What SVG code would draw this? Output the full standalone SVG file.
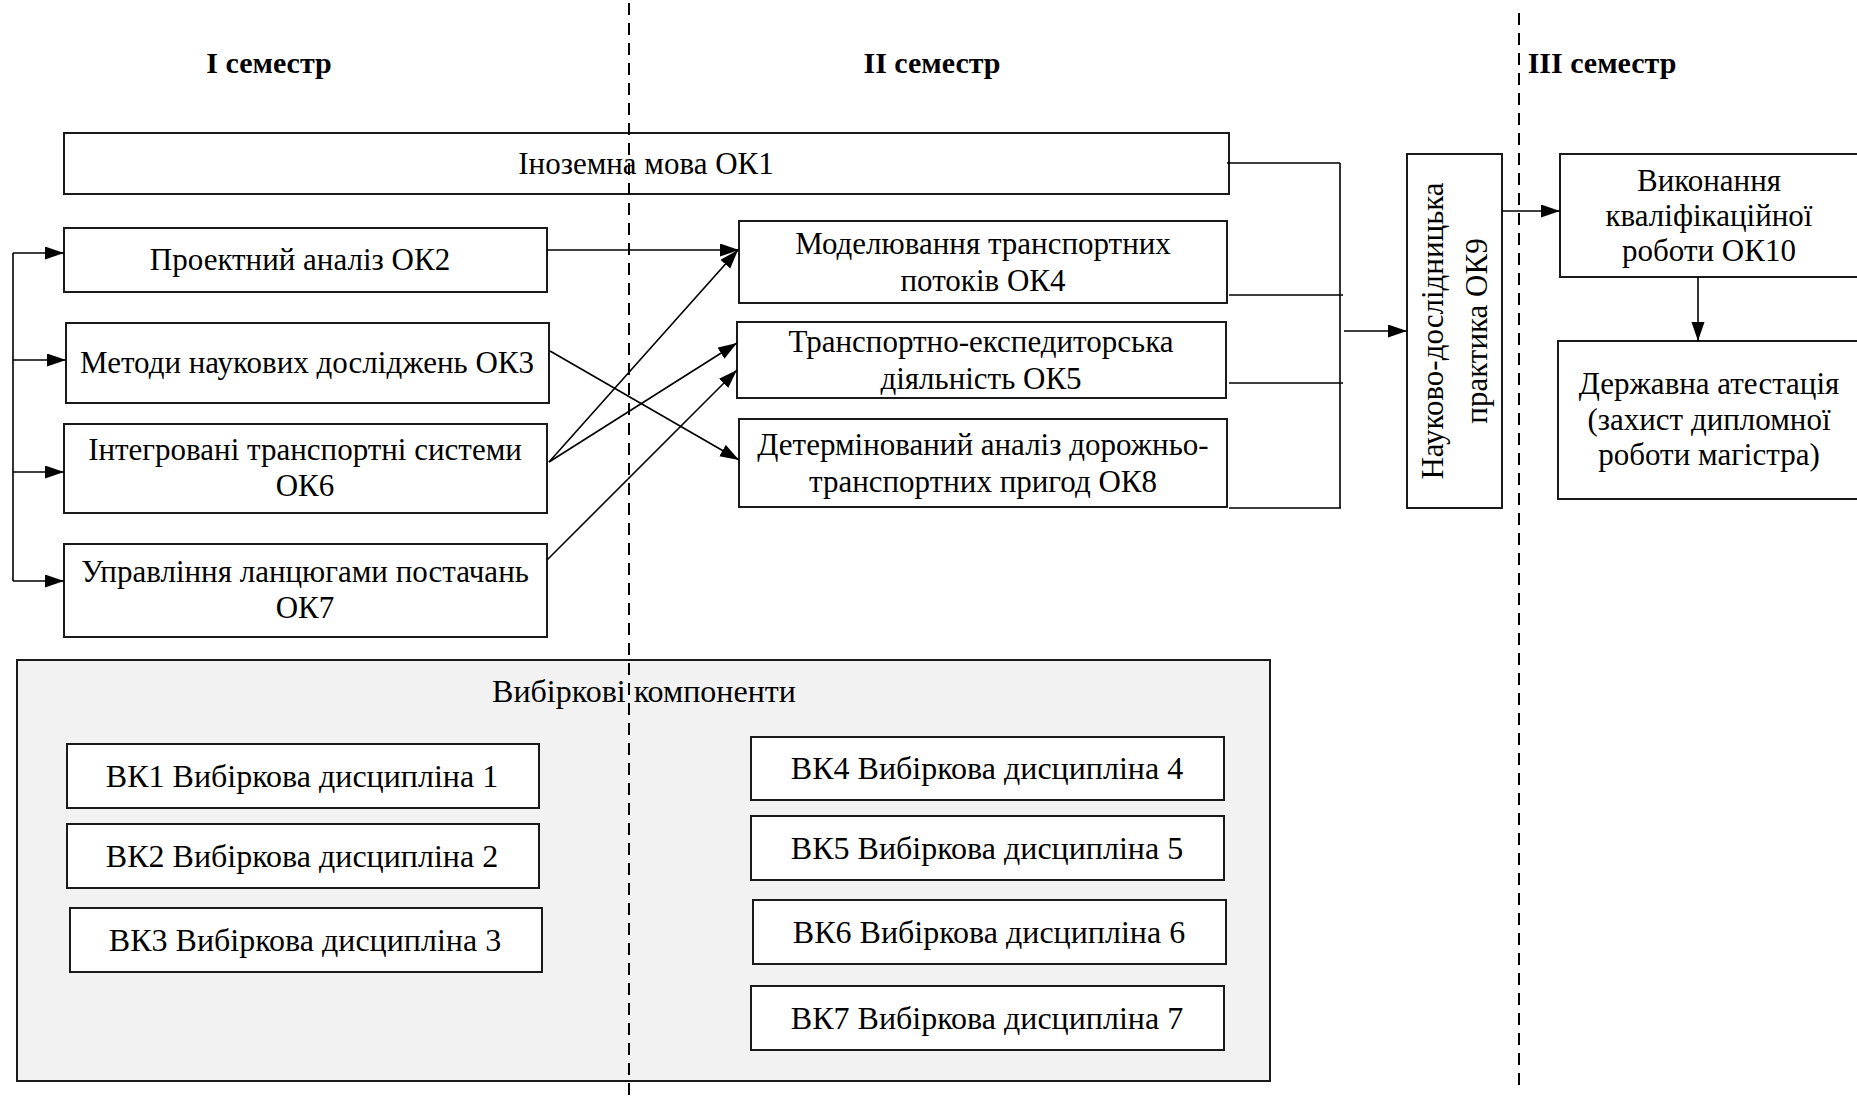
<svg xmlns="http://www.w3.org/2000/svg" width="1857" height="1097" viewBox="0 0 1857 1097">
<style>
.box{fill:#fff;stroke:#1a1a1a;stroke-width:2}
.panel{fill:#f2f2f2;stroke:#1a1a1a;stroke-width:2}
.t{font-family:"Liberation Serif","Times New Roman",serif;font-size:31px;fill:#000;text-anchor:middle}
.v{font-family:"Liberation Serif","Times New Roman",serif;font-size:32px;fill:#000;text-anchor:middle}
.h{font-family:"Liberation Serif","Times New Roman",serif;font-size:30px;font-weight:bold;fill:#000;text-anchor:middle}
.c{fill:none;stroke:#000;stroke-width:1.6}
.a{fill:none;stroke:#000;stroke-width:1.6;marker-end:url(#arr)}
.dash{fill:none;stroke:#000;stroke-width:2;stroke-dasharray:12 8}
</style>
<defs>
<marker id="arr" markerUnits="userSpaceOnUse" markerWidth="20" markerHeight="14" refX="19" refY="6.5" orient="auto">
<path d="M0,0 L19,6.5 L0,13 Z" fill="#000"/>
</marker>
</defs>
<rect width="1857" height="1097" fill="#fff"/>

<g id="panel-vk">
<rect class="panel" x="17" y="660" width="1253" height="421"/>
<text class="v" x="644" y="702">Вибіркові компоненти</text>
</g>

<g id="titles">
<text class="h" x="269" y="73">І семестр</text>
<text class="h" x="932" y="73">ІІ семестр</text>
<text class="h" x="1602" y="73">ІІІ семестр</text>
</g>

<g id="ok1"><rect class="box" x="64" y="133" width="1165" height="61"/><text class="t" x="646" y="174">Іноземна мова ОК1</text></g>
<g id="ok2"><rect class="box" x="64" y="228" width="483" height="64"/><text class="t" x="300" y="270">Проектний аналіз ОК2</text></g>
<g id="ok3"><rect class="box" x="66" y="323" width="483" height="80"/><text class="t" x="307" y="373">Методи наукових досліджень ОК3</text></g>
<g id="ok6"><rect class="box" x="64" y="424" width="483" height="89"/><text class="t" x="305" y="460">Інтегровані транспортні системи</text><text class="t" x="305" y="496">ОК6</text></g>
<g id="ok7"><rect class="box" x="64" y="544" width="483" height="93"/><text class="t" x="305" y="582">Управління ланцюгами постачань</text><text class="t" x="305" y="618">ОК7</text></g>

<g id="ok4"><rect class="box" x="739" y="221" width="488" height="82"/><text class="t" x="983" y="254">Моделювання транспортних</text><text class="t" x="983" y="291">потоків ОК4</text></g>
<g id="ok5"><rect class="box" x="737" y="322" width="489" height="76"/><text class="t" x="981" y="352">Транспортно-експедиторська</text><text class="t" x="981" y="389">діяльність ОК5</text></g>
<g id="ok8"><rect class="box" x="739" y="419" width="488" height="88"/><text class="t" x="983" y="455">Детермінований аналіз дорожньо-</text><text class="t" x="983" y="492">транспортних пригод ОК8</text></g>

<g id="ok9"><rect class="box" x="1407" y="154" width="95" height="354"/>
<g transform="translate(1454,331) rotate(-90)"><text class="t" x="0" y="-11">Науково-дослідницька</text><text class="t" x="0" y="33">практика ОК9</text></g></g>

<g id="ok10"><rect class="box" x="1560" y="154" width="305" height="123"/><text class="t" x="1709" y="191">Виконання</text><text class="t" x="1709" y="226">кваліфікаційної</text><text class="t" x="1709" y="261">роботи ОК10</text></g>
<g id="attest"><rect class="box" x="1558" y="341" width="307" height="158"/><text class="t" x="1709" y="394">Державна атестація</text><text class="t" x="1709" y="430">(захист дипломної</text><text class="t" x="1709" y="465">роботи магістра)</text></g>

<g id="vk1"><rect class="box" x="67" y="744" width="472" height="64"/><text class="v" x="302" y="787">ВК1 Вибіркова дисципліна 1</text></g>
<g id="vk2"><rect class="box" x="67" y="824" width="472" height="64"/><text class="v" x="302" y="867">ВК2 Вибіркова дисципліна 2</text></g>
<g id="vk3"><rect class="box" x="70" y="908" width="472" height="64"/><text class="v" x="305" y="951">ВК3 Вибіркова дисципліна 3</text></g>
<g id="vk4"><rect class="box" x="751" y="737" width="473" height="63"/><text class="v" x="987" y="779">ВК4 Вибіркова дисципліна 4</text></g>
<g id="vk5"><rect class="box" x="751" y="816" width="473" height="64"/><text class="v" x="987" y="859">ВК5 Вибіркова дисципліна 5</text></g>
<g id="vk6"><rect class="box" x="753" y="900" width="473" height="64"/><text class="v" x="989" y="943">ВК6 Вибіркова дисципліна 6</text></g>
<g id="vk7"><rect class="box" x="751" y="986" width="473" height="64"/><text class="v" x="987" y="1029">ВК7 Вибіркова дисципліна 7</text></g>

<g id="connectors">
<path class="c" d="M13,253 V581"/>
<path class="a" d="M13,253 H64"/>
<path class="a" d="M13,360 H66"/>
<path class="a" d="M13,472 H64"/>
<path class="a" d="M13,581 H64"/>
<path class="a" d="M547,250 H739"/>
<path class="a" d="M550,351 L739,460"/>
<path class="a" d="M549,462 L738,250"/>
<path class="a" d="M549,462 L737,343"/>
<path class="a" d="M547,560 L737,370"/>
<path class="c" d="M1227,163 H1340 M1229,295 H1343 M1229,383 H1343 M1229,508 H1341 M1340,163 V508"/>
<path class="a" d="M1344,331 H1407"/>
<path class="a" d="M1502,211 H1560"/>
<path class="a" d="M1698,277 V341"/>
</g>

<g id="dividers">
<path class="dash" d="M629,3 V1097"/>
<path class="dash" d="M1519,13 V1092"/>
</g>
</svg>
